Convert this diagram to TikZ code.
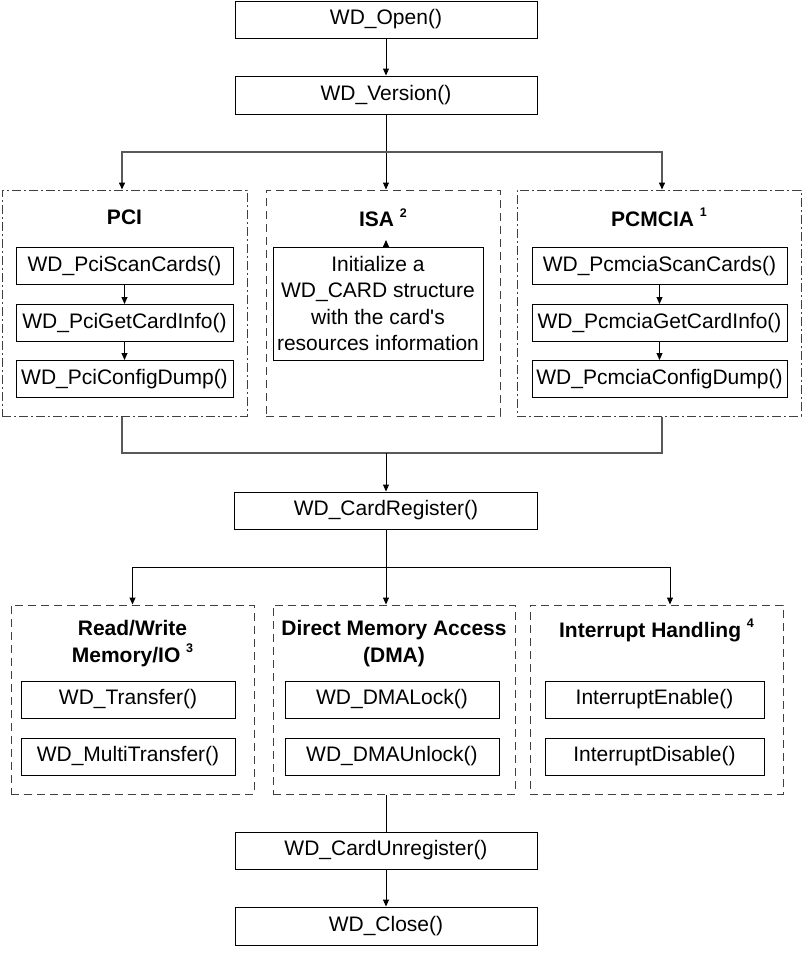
\documentclass[tikz,border=0pt]{standalone}
\usepackage{fontspec}
\setmainfont{Liberation Sans}
\usetikzlibrary{arrows.meta, positioning, calc}
\newcommand{\fnote}[1]{\raisebox{0.45em}{\fontsize{12.5}{12.5}\selectfont\bfseries #1}}

\begin{document}
\begin{tikzpicture}[x=1pt,y=-1pt,>={Triangle[length=7pt,width=6pt,color=black]},
  fn/.style={draw,line width=1pt,inner sep=0pt,minimum height=37pt,font=\fontsize{21}{26.5}\selectfont,align=center},
  grpdot/.style={draw=black!75,line width=1pt,dash pattern=on 9pt off 3pt on 2pt off 3pt,inner sep=0pt},
  grpdash/.style={draw=black!75,line width=1pt,dash pattern=on 8pt off 5pt,inner sep=0pt},
  title/.style={font=\fontsize{21}{26.5}\selectfont\bfseries,align=center},
  bus/.style={draw=black!65,line width=1.5pt},
  link/.style={line width=1pt}]
\useasboundingbox (0,0) rectangle (803,956);

% top of the flow
\node[fn,minimum width=302pt] (open) at (386,19.5) {WD\_Open()};
\node[fn,minimum width=302pt,minimum height=38pt] (version) at (386,95) {WD\_Version()};

% card groups
\node[grpdot,minimum width=245pt,minimum height=226pt] (pci) at (124.5,303) {};
\node[grpdash,minimum width=234pt,minimum height=226pt] (isa) at (383,303) {};
\node[grpdot,minimum width=284pt,minimum height=226pt] (pcmcia) at (659,303) {};
\node[title] (pcititle) at ($(pci.north)+(0,28)$) {PCI};
\node[title] (isatitle) at ($(isa.north)+(0,28)$) {ISA \fnote{2}};
\node[title] (pcmciatitle) at ($(pcmcia.north)+(0,28)$) {PCMCIA \fnote{1}};

\node[fn,minimum width=217pt] (pciscan) at (124.5,266) {WD\_PciScanCards()};
\node[fn,minimum width=217pt,below=19pt of pciscan] (pciinfo) {WD\_PciGetCardInfo()};
\node[fn,minimum width=217pt,below=18pt of pciinfo] (pcidump) {WD\_PciConfigDump()};
\node[fn,minimum width=210pt,minimum height=113pt] (isainfo) at (378,303.5)
  {Initialize a\\WD\_CARD structure\\with the card\textquotesingle s\\resources information};
\node[fn,minimum width=255pt] (pcmscan) at (659.5,266) {WD\_PcmciaScanCards()};
\node[fn,minimum width=255pt,below=19pt of pcmscan] (pcminfo) {WD\_PcmciaGetCardInfo()};
\node[fn,minimum width=255pt,below=18pt of pcminfo] (pcmdump) {WD\_PcmciaConfigDump()};

\node[fn,minimum width=303pt] (register) at (386,510.5) {WD\_CardRegister()};

% access groups
\node[grpdash,minimum width=243pt,minimum height=189pt] (rw) at (132.5,699.5) {};
\node[grpdash,minimum width=242pt,minimum height=189pt] (dma) at (394,699.5) {};
\node[grpdash,minimum width=253pt,minimum height=189pt] (intr) at (656.5,699.5) {};
\node[title] (rwtitle) at ($(rw.north)+(0,39)$) {Read/Write\\Memory/IO \fnote{3}};
\node[title] (dmatitle) at ($(dma.north)+(0,39)$) {Direct Memory Access\\(DMA)};
\node[title] (intrtitle) at ($(intr.north)+(0,26)$) {Interrupt Handling \fnote{4}};

\node[fn,minimum width=214pt] (transfer) at (128,699.5) {WD\_Transfer()};
\node[fn,minimum width=214pt,below=19pt of transfer] (multi) {WD\_MultiTransfer()};
\node[fn,minimum width=214pt] (dmalock) at (392,699.5) {WD\_DMALock()};
\node[fn,minimum width=214pt,below=19pt of dmalock] (dmaunlock) {WD\_DMAUnlock()};
\node[fn,minimum width=219pt] (inten) at (654.5,699.5) {InterruptEnable()};
\node[fn,minimum width=219pt,below=19pt of inten] (intdis) {InterruptDisable()};

% bottom of the flow
\node[fn,minimum width=302pt] (unreg) at (386,850.5) {WD\_CardUnregister()};
\node[fn,minimum width=302pt,minimum height=38pt] (close) at (386,926) {WD\_Close()};

\coordinate (split) at (386,152);
\coordinate (merge) at (386,453);
\coordinate (split2) at (386,567);
\coordinate (isatip) at (386,240);

\draw[link,->] (open) -- (version);
\draw[link,->] (version) -- (isa.north -| version);
\draw[bus,->] (split) -| ([xshift=-2.5pt]pci.north);
\draw[bus,->] (split) -| ([xshift=3pt]pcmcia.north);
\draw[link,->] (pciscan) -- (pciinfo);
\draw[link,->] (pciinfo) -- (pcidump);
\draw[link,->] (pcmscan) -- (pcminfo);
\draw[link,->] (pcminfo) -- (pcmdump);
\draw[link,->] (isainfo.north -| isatip) -- (isatip);
\draw[bus] ([xshift=-2.5pt]pci.south) |- (merge) -| ([xshift=3pt]pcmcia.south);
\draw[link,->] (merge) -- (register);
\draw[link] (register) -- (split2);
\draw[link,->] (split2) -| (rw.north);
\draw[link,->] (split2) -- (dma.north -| split2);
\draw[link,->] (split2) -| ([xshift=13.5pt]intr.north);
\draw[link] (dma.south -| unreg) -- (unreg);
\draw[link,->] (unreg) -- (close);
\end{tikzpicture}
\end{document}
